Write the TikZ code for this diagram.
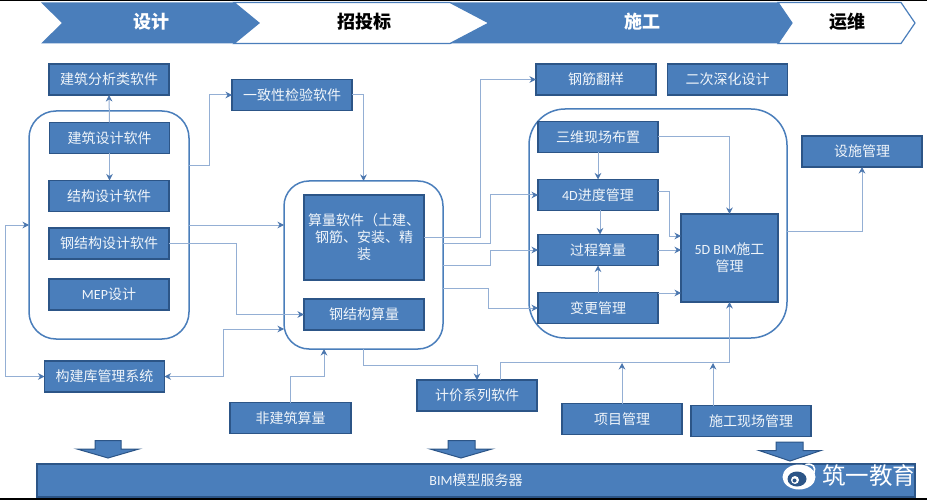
\documentclass[tikz,border=0pt]{standalone}
\usepackage{fontspec}
\setmainfont{Noto Sans CJK SC}
\newfontfamily\latfont{Carlito}
\usetikzlibrary{arrows.meta}
\definecolor{boxfill}{HTML}{4A7EBB}
\definecolor{boxline}{HTML}{2C5587}
\definecolor{wireline}{HTML}{94AFD4}
\definecolor{wirehead}{HTML}{4A76AE}
\tikzset{
  swbox/.style={rectangle,draw=boxline,fill=boxfill,line width=1.2pt,text=white!92!boxfill,
    font=\fontsize{14}{17}\selectfont,align=center,inner sep=0pt,outer sep=0pt,
    minimum width=120,minimum height=31},
  group/.style={rectangle,draw=boxfill,line width=1.5pt,inner sep=0pt,outer sep=0pt},
  wire/.style={draw=wireline,line width=1pt,
    -{Stealth[length=6.5pt,width=6.5pt,color=wirehead]}},
  wireboth/.style={wire,{Stealth[length=6.5pt,width=6.5pt,color=wirehead]}-{Stealth[length=6.5pt,width=6.5pt,color=wirehead]}},
  phase/.style={inner sep=0pt,outer sep=0pt,font=\fontsize{18}{20}\selectfont\bfseries},
  bigarrow/.style={fill=boxfill,draw=boxline,line width=1pt,line join=miter},
}
\begin{document}
\begin{tikzpicture}[x=1pt,y=-1pt]
\useasboundingbox (0,0) rectangle (927,500);
\fill[white] (0,0) rectangle (927,500);
\fill[black] (0,0) rectangle (927,1.5);
\fill[black] (0,498) rectangle (927,500);

% phase chevrons
\filldraw[draw=boxfill,fill=white,line width=1.2pt] (234,2.5)--(450,2.5)--(489,23)--(450,43.5)--(234,43.5)--(259,23)--cycle;
\filldraw[draw=boxfill,fill=white,line width=1.2pt] (778,2.5)--(901,2.5)--(915,23)--(901,43.5)--(778,43.5)--(792,23)--cycle;
\fill[boxfill] (41,2.5)--(234,2.5)--(259,23)--(234,43.5)--(41,43.5)--(62,23)--cycle;
\fill[boxfill] (450,2.5)--(778,2.5)--(792,23)--(778,43.5)--(450,43.5)--(489,23)--cycle;
\node[phase,text=white] (ph1) at (151,22) {设计};
\node[phase,text=black] (ph2) at (364,22) {招投标};
\node[phase,text=white] (ph3) at (642,22) {施工};
\node[phase,text=black] (ph4) at (847,22) {运维};

% groups
\node[group,minimum width=160,minimum height=228,rounded corners=27] (c1) at (109,225) {};
\node[group,minimum width=159,minimum height=168,rounded corners=25] (c2) at (363.5,265) {};
\node[group,minimum width=258,minimum height=229,rounded corners=36] (c3) at (658,223.5) {};

% boxes
\node[swbox] (analysis) at (109,79.5) {建筑分析类软件};
\node[swbox] (archi) at (109.5,138) {建筑设计软件};
\node[swbox] (struct) at (109,196) {结构设计软件};
\node[swbox] (steel) at (109,243.5) {钢结构设计软件};
\node[swbox] (mep) at (109,294.5) {{\latfont MEP}设计};
\node[swbox] (check) at (292,95) {一致性检验软件};
\node[swbox,minimum height=85] (qty) at (364,237.5) {算量软件（土建、\\钢筋、安装、精\\装};
\node[swbox] (steelqty) at (364,314.5) {钢结构算量};
\node[swbox] (lib) at (104.5,376.5) {构建库管理系统};
\node[swbox,minimum width=121] (nonb) at (290.5,418) {非建筑算量};
\node[swbox] (price) at (477,395.5) {计价系列软件};
\node[swbox] (rebar) at (596,79.5) {钢筋翻样};
\node[swbox] (deep) at (727.5,79.5) {二次深化设计};
\node[swbox] (site3d) at (598,137) {三维现场布置};
\node[swbox] (sched) at (598,195) {{\latfont 4D}进度管理};
\node[swbox] (proc) at (598,250) {过程算量};
\node[swbox] (chg) at (598,308) {变更管理};
\node[swbox,minimum width=97,minimum height=88] (bim5d) at (729.5,258) {{\latfont 5D BIM}施工\\管理};
\node[swbox] (fac) at (862,151.5) {设施管理};
\node[swbox] (pm) at (622,419) {项目管理};
\node[swbox] (sitemg) at (751,421) {施工现场管理};
\node[swbox,minimum width=878,minimum height=33] (server) at (476,480.5) {{\latfont BIM}模型服务器};

% connectors
\draw[wire] (archi.north) -- (analysis.south);
\draw[wire] (archi.south) -- (struct.north -| archi.south);
\draw[wire] (c1.east |- 0,166) -- (209,166) |- (check.west);
\draw[wire] (check.east) -| (c2.north);
\draw[wire] (c1.east |- 0,225) -- (c2.west |- 0,225);
\draw[wire] (steel.east) -- (236,243.5) |- (steelqty.west);
\draw[wireboth] (c1.west |- 0,225) -- (5,225) |- (lib.west);
\draw[wireboth] (lib.east) -- (223,376.5) |- (c2.west |- 0,329);
\draw[wire] (nonb.north) -- (290.5,376) -| (c2.south -| 324,0);
\draw[wire] (c2.south) -- (363.5,365) -| (price.north);
\draw[wire] (price.north -| 500,0) -- (500,362.5) -| (bim5d.south);
\draw[wire] (pm.north) -- (pm.north |- 0,363);
\draw[wire] (sitemg.north -| 713,0) -- (713,363);
\draw[wire] (qty.east |- 0,237) -- (480,237) |- (rebar.west);
\draw[wire] (c2.east |- 0,243) -- (490,243) |- (sched.west);
\draw[wire] (c2.east |- 0,265.5) -- (490,265.5) |- (proc.west);
\draw[wire] (c2.east |- 0,288) -- (488,288) |- (chg.west);
\draw[wire] (site3d.east) -| (bim5d.north);
\draw[wire] (site3d.south) -- (sched.north);
\draw[wire] (sched.south -| 600,0) -- (proc.north -| 600,0);
\draw[wire] (chg.north) -- (proc.south);
\draw[wire] (sched.east |- 0,192) -- (669,192) |- (bim5d.west |- 0,236);
\draw[wire] (proc.east) -- (proc.east -| bim5d.west);
\draw[wire] (chg.east |- 0,293) -- (bim5d.west |- 0,293);
\draw[wire] (c3.east |- 0,231) -- (862,231) -- (fac.south);

% large arrows
\draw[bigarrow] (95,440.5)--(121,440.5)--(121,449)--(139,449)--(108,458)--(77,449)--(95,449)--cycle;
\draw[bigarrow] (448,440.5)--(475,440.5)--(475,449)--(492,449)--(461,458)--(430,449)--(448,449)--cycle;
\draw[bigarrow] (776,442)--(803,442)--(803,450.5)--(821,450.5)--(790,461)--(759,450.5)--(776,450.5)--cycle;

% watermark
\fill[white] (799,477) ellipse [x radius=16.5,y radius=12.5];
\fill[boxline] (797,479) ellipse [x radius=9.5,y radius=7.5];
\fill[white] (795,480) circle (4);
\fill[boxline] (794.5,480.5) circle (2);
\draw[white,line width=1.6pt,line cap=round] (806,464.5) .. controls (813,463) and (816,467) .. (814,473);
\draw[white,line width=1.6pt,line cap=round] (806,468.5) .. controls (809.5,468) and (811,470) .. (810,473);
\node[inner sep=0pt,text=white,font=\fontsize{23.5}{25}\selectfont] (mark) at (869,476) {筑一教育};
\end{tikzpicture}
\end{document}
